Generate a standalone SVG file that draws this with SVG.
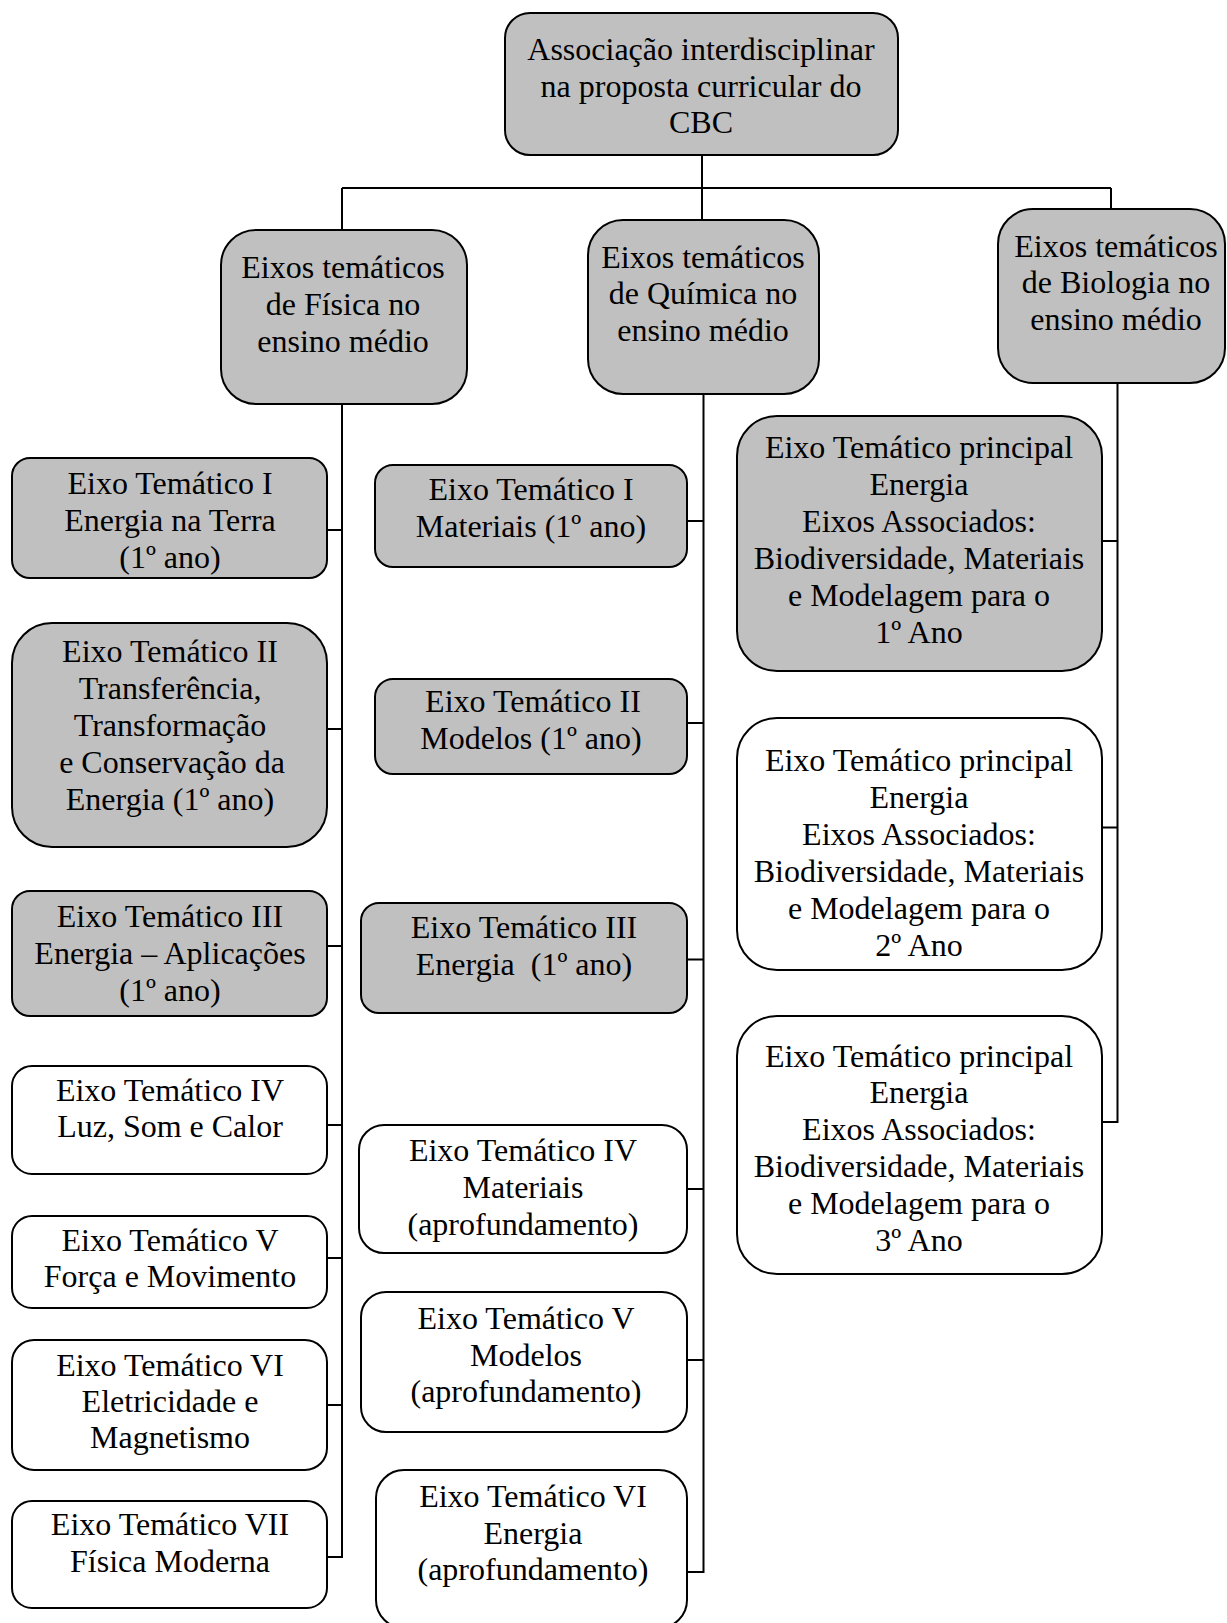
<svg xmlns="http://www.w3.org/2000/svg" width="1227" height="1623" viewBox="0 0 1227 1623">
<style>
.g{fill:#c0c0c0;stroke:#000;stroke-width:2}
.w{fill:#fff;stroke:#000;stroke-width:2}
.t{font-family:"Liberation Serif","Times New Roman",serif;font-size:32px;fill:#000;text-anchor:middle}
.c{fill:none;stroke:#000;stroke-width:2}
</style>
<rect width="1227" height="1623" fill="#fff"/>
<g id="connectors" class="c">
<path d="M702 155V188M342 188H1111M342 188V230M702 188V220M1111 188V209"/>
<path d="M342 404V1557H327M327 530H342M327 729H342M327 946H342M327 1125H342M327 1258H342M327 1405H342"/>
<path d="M703.5 394V1572H687M687 521H703.5M687 723H703.5M687 959.5H703.5M687 1189H703.5M687 1360H703.5"/>
<path d="M1117.5 383V1122H1102M1102 541H1117.5M1102 827.5H1117.5"/>
</g>
<g id="root"><rect class="g" x="505" y="13" width="393" height="142" rx="25"/>
<text class="t"><tspan x="701" y="60">Associação interdisciplinar</tspan><tspan x="701" y="97">na proposta curricular do</tspan><tspan x="701" y="133">CBC</tspan></text></g>
<g id="fisica"><rect class="g" x="221" y="230" width="246" height="174" rx="35"/>
<text class="t"><tspan x="343" y="278">Eixos temáticos</tspan><tspan x="343" y="315">de Física no</tspan><tspan x="343" y="352">ensino médio</tspan></text></g>
<g id="quimica"><rect class="g" x="588" y="220" width="231" height="174" rx="35"/>
<text class="t"><tspan x="703" y="268">Eixos temáticos</tspan><tspan x="703" y="304">de Química no</tspan><tspan x="703" y="341">ensino médio</tspan></text></g>
<g id="biologia"><rect class="g" x="998" y="209" width="227" height="174" rx="35"/>
<text class="t"><tspan x="1116" y="257">Eixos temáticos</tspan><tspan x="1116" y="293">de Biologia no</tspan><tspan x="1116" y="330">ensino médio</tspan></text></g>

<g id="f1"><rect class="g" x="12" y="458" width="315" height="120" rx="18"/>
<text class="t"><tspan x="170" y="494">Eixo Temático I</tspan><tspan x="170" y="531">Energia na Terra</tspan><tspan x="170" y="568">(1º ano)</tspan></text></g>
<g id="f2"><rect class="g" x="12" y="623" width="315" height="224" rx="40"/>
<text class="t"><tspan x="170" y="662">Eixo Temático II</tspan><tspan x="170" y="699">Transferência,</tspan><tspan x="170" y="736">Transformação</tspan><tspan x="172" y="773">e Conservação da</tspan><tspan x="170" y="810">Energia (1º ano)</tspan></text></g>
<g id="f3"><rect class="g" x="12" y="891" width="315" height="125" rx="18"/>
<text class="t"><tspan x="170" y="927">Eixo Temático III</tspan><tspan x="170" y="964">Energia – Aplicações</tspan><tspan x="170" y="1001">(1º ano)</tspan></text></g>
<g id="f4"><rect class="w" x="12" y="1066" width="315" height="108" rx="20"/>
<text class="t"><tspan x="170" y="1101">Eixo Temático IV</tspan><tspan x="170" y="1137">Luz, Som e Calor</tspan></text></g>
<g id="f5"><rect class="w" x="12" y="1216" width="315" height="92" rx="20"/>
<text class="t"><tspan x="170" y="1251">Eixo Temático V</tspan><tspan x="170" y="1287">Força e Movimento</tspan></text></g>
<g id="f6"><rect class="w" x="12" y="1340" width="315" height="130" rx="22"/>
<text class="t"><tspan x="170" y="1376">Eixo Temático VI</tspan><tspan x="170" y="1412">Eletricidade e</tspan><tspan x="170" y="1448">Magnetismo</tspan></text></g>
<g id="f7"><rect class="w" x="12" y="1501" width="315" height="107" rx="20"/>
<text class="t"><tspan x="170" y="1535">Eixo Temático VII</tspan><tspan x="170" y="1572">Física Moderna</tspan></text></g>

<g id="q1"><rect class="g" x="375" y="465" width="312" height="102" rx="18"/>
<text class="t"><tspan x="531" y="500">Eixo Temático I</tspan><tspan x="531" y="537">Materiais (1º ano)</tspan></text></g>
<g id="q2"><rect class="g" x="375" y="679" width="312" height="95" rx="18"/>
<text class="t"><tspan x="533" y="712">Eixo Temático II</tspan><tspan x="531" y="749">Modelos (1º ano)</tspan></text></g>
<g id="q3"><rect class="g" x="361" y="903" width="326" height="110" rx="18"/>
<text class="t"><tspan x="524" y="938">Eixo Temático III</tspan><tspan x="524" y="975">Energia&#160; (1º ano)</tspan></text></g>
<g id="q4"><rect class="w" x="359" y="1125" width="328" height="128" rx="25"/>
<text class="t"><tspan x="523" y="1161">Eixo Temático IV</tspan><tspan x="523" y="1198">Materiais</tspan><tspan x="523" y="1235">(aprofundamento)</tspan></text></g>
<g id="q5"><rect class="w" x="361" y="1292" width="326" height="140" rx="25"/>
<text class="t"><tspan x="526" y="1329">Eixo Temático V</tspan><tspan x="526" y="1366">Modelos</tspan><tspan x="526" y="1402">(aprofundamento)</tspan></text></g>
<g id="q6"><rect class="w" x="376" y="1470" width="311" height="158" rx="28"/>
<text class="t"><tspan x="533" y="1507">Eixo Temático VI</tspan><tspan x="533" y="1544">Energia</tspan><tspan x="533" y="1580">(aprofundamento)</tspan></text></g>

<g id="b1"><rect class="g" x="737" y="416" width="365" height="255" rx="40"/>
<text class="t"><tspan x="919" y="458">Eixo Temático principal</tspan><tspan x="919" y="495">Energia</tspan><tspan x="919" y="532">Eixos Associados:</tspan><tspan x="919" y="569">Biodiversidade, Materiais</tspan><tspan x="919" y="606">e Modelagem para o</tspan><tspan x="919" y="643">1º Ano</tspan></text></g>
<g id="b2"><rect class="w" x="737" y="718" width="365" height="252" rx="40"/>
<text class="t"><tspan x="919" y="771">Eixo Temático principal</tspan><tspan x="919" y="808">Energia</tspan><tspan x="919" y="845">Eixos Associados:</tspan><tspan x="919" y="882">Biodiversidade, Materiais</tspan><tspan x="919" y="919">e Modelagem para o</tspan><tspan x="919" y="956">2º Ano</tspan></text></g>
<g id="b3"><rect class="w" x="737" y="1016" width="365" height="258" rx="40"/>
<text class="t"><tspan x="919" y="1067">Eixo Temático principal</tspan><tspan x="919" y="1103">Energia</tspan><tspan x="919" y="1140">Eixos Associados:</tspan><tspan x="919" y="1177">Biodiversidade, Materiais</tspan><tspan x="919" y="1214">e Modelagem para o</tspan><tspan x="919" y="1251">3º Ano</tspan></text></g>
</svg>
